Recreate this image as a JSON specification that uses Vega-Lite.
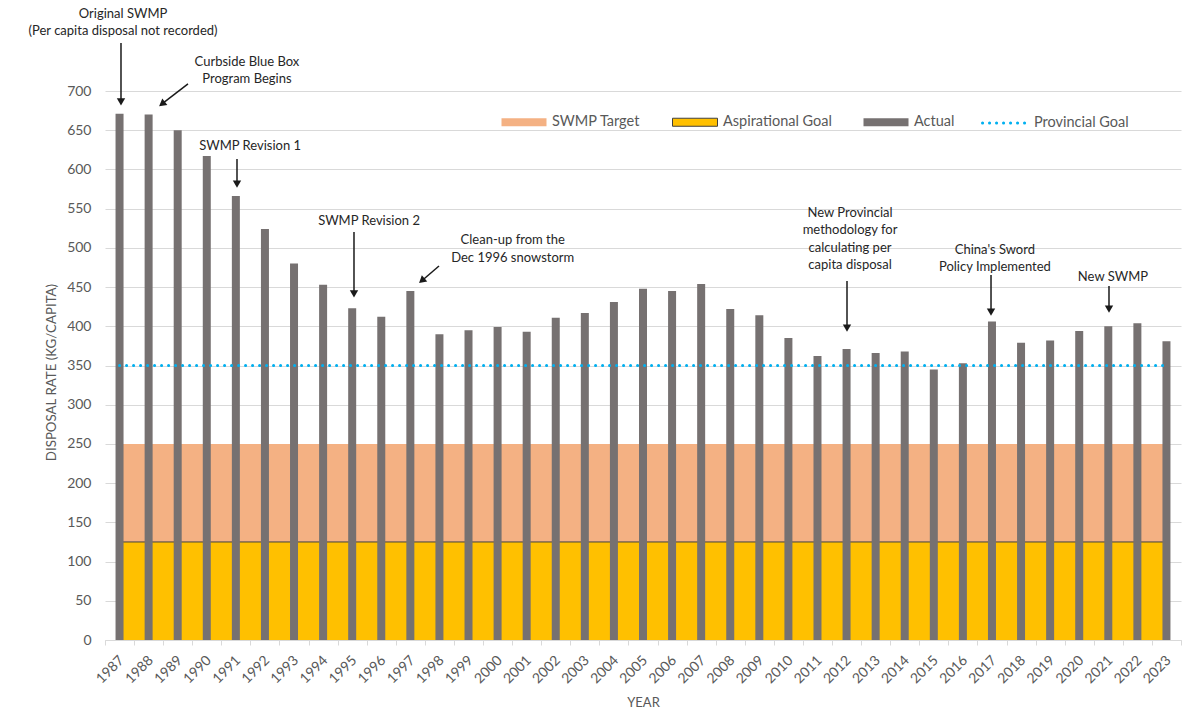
{
  "$schema": "https://vega.github.io/schema/vega-lite/v6.json",
  "width": 1076,
  "height": 549,
  "autosize": {"type": "none"},
  "padding": {"left": 105, "top": 91, "right": 5, "bottom": 72},
  "background": "white",
  "config": {
    "view": {"stroke": null},
    "font": "Lato",
    "axisY": {"tickCount": 14, "labelOverlap": false}
  },
  "datasets": {
    "disposal": [
      {"year": 1987, "rate": 671}, {"year": 1988, "rate": 670}, {"year": 1989, "rate": 650},
      {"year": 1990, "rate": 617}, {"year": 1991, "rate": 566}, {"year": 1992, "rate": 524},
      {"year": 1993, "rate": 480}, {"year": 1994, "rate": 453}, {"year": 1995, "rate": 423},
      {"year": 1996, "rate": 412}, {"year": 1997, "rate": 445}, {"year": 1998, "rate": 390},
      {"year": 1999, "rate": 395}, {"year": 2000, "rate": 399}, {"year": 2001, "rate": 393},
      {"year": 2002, "rate": 411}, {"year": 2003, "rate": 417}, {"year": 2004, "rate": 431},
      {"year": 2005, "rate": 448}, {"year": 2006, "rate": 445}, {"year": 2007, "rate": 454},
      {"year": 2008, "rate": 422}, {"year": 2009, "rate": 414}, {"year": 2010, "rate": 385},
      {"year": 2011, "rate": 362}, {"year": 2012, "rate": 371}, {"year": 2013, "rate": 366},
      {"year": 2014, "rate": 368}, {"year": 2015, "rate": 345}, {"year": 2016, "rate": 353},
      {"year": 2017, "rate": 406}, {"year": 2018, "rate": 379}, {"year": 2019, "rate": 382},
      {"year": 2020, "rate": 394}, {"year": 2021, "rate": 400}, {"year": 2022, "rate": 404},
      {"year": 2023, "rate": 381}
    ],
    "notes": [
      {"label": "Original SWMP\n(Per capita disposal not recorded)", "x": 1987.12, "y": 798.8},
      {"label": "Curbside Blue Box\nProgram Begins", "x": 1991.38, "y": 737.0},
      {"label": "SWMP Revision 1", "x": 1991.49, "y": 629.9},
      {"label": "SWMP Revision 2", "x": 1995.58, "y": 534.2},
      {"label": "Clean-up from the\nDec 1996 snowstorm", "x": 2000.52, "y": 510.0},
      {"label": "New Provincial\nmethodology for\ncalculating per\ncapita disposal", "x": 2012.12, "y": 544.8},
      {"label": "China's Sword\nPolicy Implemented", "x": 2017.1, "y": 497.3},
      {"label": "New SWMP", "x": 2021.16, "y": 462.8}
    ],
    "arrows": [
      {"x1": 1987.05, "y1": 761.2, "hx": 1987.05, "hy": 686.0, "angle": 0},
      {"x1": 1989.354, "y1": 709.0, "hx": 1988.459, "hy": 683.5, "angle": 52.5},
      {"x1": 1991.039, "y1": 613.3, "hx": 1991.039, "hy": 581.4, "angle": 0},
      {"x1": 1995.062, "y1": 520.2, "hx": 1995.062, "hy": 441.2, "angle": 0},
      {"x1": 1997.985, "y1": 476.9, "hx": 1997.394, "hy": 458.1, "angle": 49.4},
      {"x1": 2012.015, "y1": 457.7, "hx": 2012.015, "hy": 397.8, "angle": 0},
      {"x1": 2016.967, "y1": 465.4, "hx": 2016.967, "hy": 418.2, "angle": 0},
      {"x1": 2021.024, "y1": 451.4, "hx": 2021.024, "hy": 422.0, "angle": 0}
    ]
  },
  "resolve": {"scale": {"x": "independent", "y": "independent"}},
  "layer": [
    {
      "data": {"name": "disposal"},
      "layer": [
        {
          "mark": {"type": "area"},
          "encoding": {
            "x": {"field": "year", "type": "ordinal", "title": "YEAR",
              "axis": {"labelAngle": -45, "labelColor": "#595959", "labelFontSize": 14, "labelPadding": 8, "labelOffset": -3,
                "domainColor": "#D9D9D9", "tickColor": "#D9D9D9", "tickSize": 5, "tickBand": "extent",
                "grid": false, "titleColor": "#595959", "titleFontSize": 13, "titleFontWeight": "normal", "titlePadding": 11}},
            "y": {"datum": 250, "type": "quantitative", "scale": {"domain": [0, 700], "nice": false},
              "axis": {"title": "DISPOSAL RATE (KG/CAPITA)", "tickCount": 14,
                "labelOverlap": false,
                "grid": true, "gridColor": "#D9D9D9", "domain": false, "ticks": false, "labelPadding": 14,
                "labelFontSize": 14, "labelColor": "#595959", "titleColor": "#595959", "titleFontSize": 13.3,
                "titleFontWeight": "normal", "titlePadding": 8, "titleY": 281}},
            "y2": {"datum": 125},
            "fill": {"datum": "SWMP Target",
              "scale": {"domain": ["SWMP Target", "Aspirational Goal", "Actual"], "range": ["#F4B183", "#FFC000", "#767171"]},
              "legend": {"orient": "none", "legendX": 396, "legendY": 8, "direction": "horizontal", "title": null,
                "symbolType": "M-1,-0.178H1V0.178H-1Z", "symbolSize": 2025, "labelFontSize": 14.5, "labelColor": "#595959",
                "labelOffset": 5, "columnPadding": 29, "symbolStrokeWidth": 0,
                "encode": {"symbols": {"update": {
                  "stroke": [{"test": "datum.value === 'Aspirational Goal'", "value": "#404040"}, {"value": "transparent"}],
                  "strokeWidth": {"value": 1}}}}}}
          }
        },
        {
          "mark": {"type": "area"},
          "encoding": {
            "x": {"field": "year", "type": "ordinal"},
            "y": {"datum": 125, "type": "quantitative"},
            "y2": {"datum": 0},
            "fill": {"datum": "Aspirational Goal"}
          }
        },
        {
          "mark": {"type": "line", "color": "#404040", "strokeWidth": 1},
          "encoding": {
            "x": {"field": "year", "type": "ordinal"},
            "y": {"datum": 125, "type": "quantitative"}
          }
        },
        {
          "mark": {"type": "bar", "size": 8},
          "encoding": {
            "x": {"field": "year", "type": "ordinal"},
            "y": {"field": "rate", "type": "quantitative"},
            "fill": {"datum": "Actual"}
          }
        },
        {
          "mark": {"type": "line", "color": "#00B0F0", "strokeWidth": 3, "strokeCap": "round"},
          "encoding": {
            "x": {"field": "year", "type": "ordinal"},
            "y": {"datum": 350, "type": "quantitative"},
            "strokeDash": {"datum": "Provincial Goal",
              "scale": {"domain": ["Provincial Goal"], "range": [[0.1, 6.9]]},
              "legend": {"orient": "none", "legendX": 876, "legendY": 6, "title": null, "symbolType": "stroke",
                "symbolSize": 2401, "symbolStrokeColor": "#00B0F0", "symbolStrokeWidth": 3,
                "labelFontSize": 14.5, "labelColor": "#595959", "labelOffset": 1,
                "encode": {"symbols": {"update": {"strokeCap": {"value": "round"}}}}}}
          }
        }
      ]
    },
    {
      "layer": [
        {
          "data": {"name": "arrows"},
          "mark": {"type": "rule", "color": "#1a1a1a", "strokeWidth": 1.5},
          "encoding": {
            "x": {"field": "x1", "type": "quantitative", "scale": {"domain": [1986.5, 2023.5], "nice": false, "zero": false}, "axis": null},
            "x2": {"field": "hx"},
            "y": {"field": "y1", "type": "quantitative", "scale": {"domain": [0, 700], "nice": false}, "axis": null},
            "y2": {"field": "hy"}
          }
        },
        {
          "data": {"name": "arrows"},
          "mark": {"type": "point", "shape": "triangle-down", "filled": true, "size": 70, "color": "#1a1a1a", "opacity": 1},
          "encoding": {
            "x": {"field": "hx", "type": "quantitative"},
            "y": {"field": "hy", "type": "quantitative"},
            "angle": {"field": "angle", "type": "quantitative", "scale": null}
          }
        },
        {
          "data": {"name": "notes"},
          "mark": {"type": "text", "lineBreak": "\n", "lineHeight": 17.5, "fontSize": 13, "color": "#262626", "align": "center", "baseline": "middle"},
          "encoding": {
            "x": {"field": "x", "type": "quantitative"},
            "y": {"field": "y", "type": "quantitative"},
            "text": {"field": "label"}
          }
        }
      ]
    }
  ]
}
